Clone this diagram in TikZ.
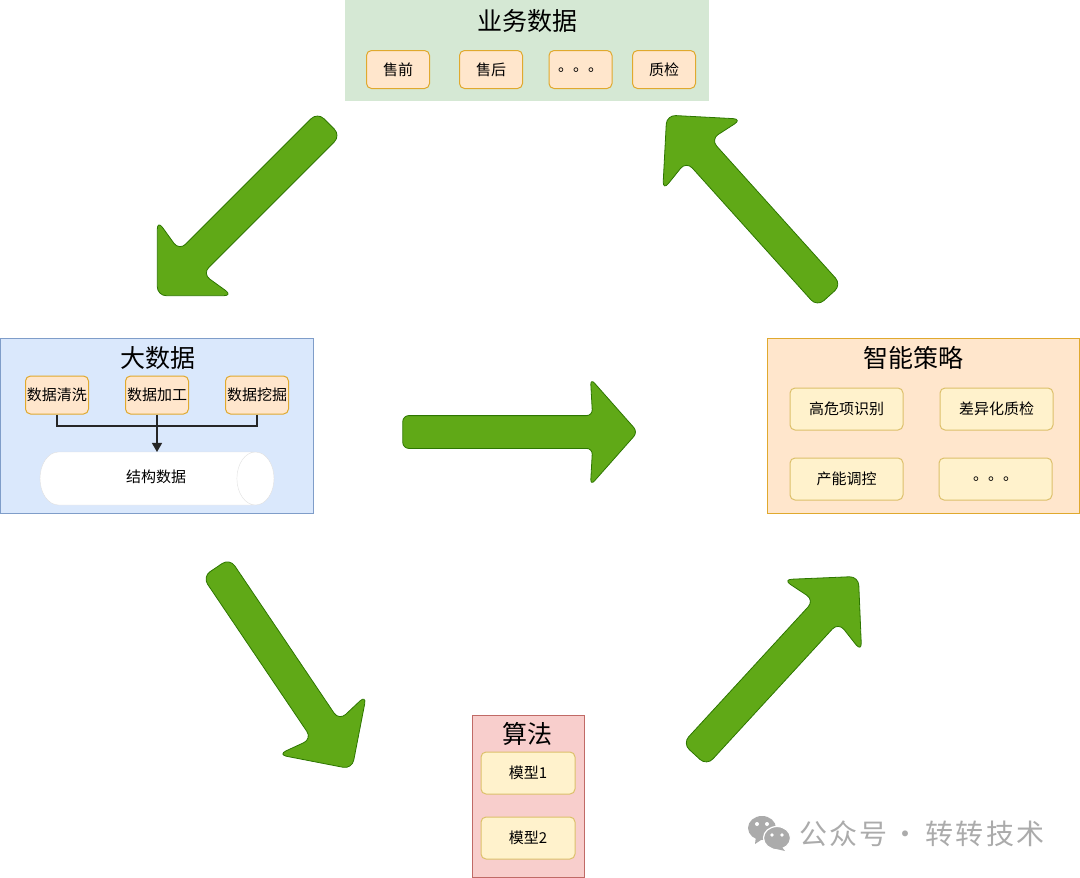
\documentclass[tikz,border=0pt]{standalone}
\usepackage{fontspec}
\usepackage{xcolor}
\usepackage{tikz}
\usetikzlibrary{calc,arrows.meta,shapes.arrows,shapes.geometric}
\setmainfont{Liberation Sans}
\newfontfamily\cjkfont{Noto Sans CJK SC}
\newfontfamily\markfont[LetterSpace=8]{Noto Sans CJK SC}
\definecolor{FlowGreen}{HTML}{60A917}
\definecolor{FlowEdge}{HTML}{2D7600}
\definecolor{BizFill}{HTML}{D5E8D4}
\definecolor{DataFill}{HTML}{DAE8FC}
\definecolor{DataEdge}{HTML}{7F9DC9}
\definecolor{PeachFill}{HTML}{FFE6CC}
\definecolor{PeachEdge}{HTML}{E0A92E}
\definecolor{AlgoFill}{HTML}{F8CECC}
\definecolor{AlgoEdge}{HTML}{C06A66}
\definecolor{CreamFill}{HTML}{FFF2CC}
\definecolor{CreamEdge}{HTML}{DCC06A}
\definecolor{MarkGray}{HTML}{ABABAB}

\begin{document}
\begin{tikzpicture}[
  x=1pt,y=-1pt,
  panel/.style={draw,anchor=north west,line width=1pt,inner sep=0pt,outer sep=0pt},
  heading/.style={font=\cjkfont\fontsize{25}{25}\selectfont,text=black,inner sep=0pt},
  item/.style={draw=PeachEdge,fill=PeachFill,rounded corners=5pt,line width=1pt,
    minimum width=63pt,minimum height=38pt,inner sep=0pt,
    font=\cjkfont\fontsize{15}{15}\selectfont},
  wideitem/.style={item,draw=CreamEdge,fill=CreamFill,minimum width=113pt,minimum height=42pt},
  modelitem/.style={wideitem,minimum width=94pt},
  flow/.style={single arrow,draw=FlowEdge,fill=FlowGreen,rounded corners=9pt,
    line width=.8pt,inner sep=16pt,outer sep=0pt,minimum width=106pt,
    single arrow head extend=37pt,single arrow head indent=6pt},
  link/.style={draw=black!85,line width=1.2pt}
]
\useasboundingbox (0,0) rectangle (1080,878);
% panels
\node[panel,draw=none,fill=BizFill,minimum width=364pt,minimum height=101pt] (biz) at (345,0) {};
\node[panel,draw=DataEdge,fill=DataFill,minimum width=312.5pt,minimum height=175.5pt] (data) at (0.5,338) {};
\node[panel,draw=PeachEdge,fill=PeachFill,minimum width=312pt,minimum height=175.5pt] (strategy) at (767,338) {};
\node[panel,draw=AlgoEdge,fill=AlgoFill,minimum width=112pt,minimum height=162pt] (algo) at (472,715) {};
\node[heading] (bizTitle) at (527,21) {业务数据};
\node[heading] (dataTitle) at (158,358) {大数据};
\node[heading] (strategyTitle) at (913,358) {智能策略};
\node[heading] (algoTitle) at (527,734) {算法};
% business data items
\node[item] (presale) at (398,69.5) {售前};
\node[item] (aftersale) at (491,69.5) {售后};
\node[item] (bizmore) at (580.5,69.5) {\raisebox{-4pt}{。。。}};
\node[item] (inspect) at (664,69.5) {质检};
% big data items
\node[item] (clean) at (57,395) {数据清洗};
\node[item] (process) at (157,395) {数据加工};
\node[item] (mining) at (257,395) {数据挖掘};
\node[cylinder,anchor=shape center,draw=black!12,fill=white,shape aspect=.7,minimum height=234pt,
  minimum width=53pt,inner xsep=0pt,inner ysep=26.5pt,outer sep=0pt] (tube) at (157,478.5) {};
\node[font=\cjkfont\fontsize{15}{15}\selectfont,inner sep=0pt] (tubeLabel) at (156,477) {结构数据};
\coordinate (merge) at (157,426);
\draw[link] (clean.south) |- (merge);
\draw[link] (mining.south) |- (merge);
\draw[link,-{Triangle[length=9pt,width=10pt]}] (process.south) -- (process.south |- tube.north);
% strategy items
\node[wideitem] (risk) at (846.5,409) {高危项识别};
\node[wideitem] (diff) at (996.5,409) {差异化质检};
\node[wideitem] (capacity) at (846.5,479) {产能调控};
\node[wideitem] (stratmore) at (995.5,479) {\raisebox{-4pt}{。。。}};
% models
\node[modelitem] (modelA) at (528,773) {模型1};
\node[modelitem] (modelB) at (528,838) {模型2};
% flow arrows
\node[flow,minimum height=243pt,rotate=-135] (bizToData) at (249,204) {};
\node[flow,minimum height=235pt,rounded corners=6pt,single arrow tip angle=97,
  single arrow head indent=2pt] (dataToStrategy) at (513,432) {};
\node[flow,minimum height=243pt,rotate=-56] (dataToAlgo) at (279.5,661.5) {};
\node[flow,minimum height=242pt,rotate=47.4] (algoToStrategy) at (771,671.5) {};
\node[flow,minimum height=243pt,rotate=132] (strategyToBiz) at (753.5,211.5) {};
% watermark
\fill[MarkGray] (762,828) ellipse (14pt and 12pt);
\fill[MarkGray] (756,836) -- (755,844) -- (764,838) -- cycle;
\fill[MarkGray,draw=white,line width=1.2pt] (777,838) ellipse (13.5pt and 11.5pt);
\fill[MarkGray] (781,846) -- (785,851) -- (772,848) -- cycle;
\fill[white] (757,824) circle (2pt) (767,824) circle (2pt) (772,835) circle (1.8pt) (782,835) circle (1.8pt);
\node[font=\markfont\fontsize{28}{28}\selectfont,text=MarkGray,anchor=west,inner sep=0pt] (mark) at (799,834) {公众号\hspace{4pt}·\hspace{6pt}转转技术};
\end{tikzpicture}
\end{document}
